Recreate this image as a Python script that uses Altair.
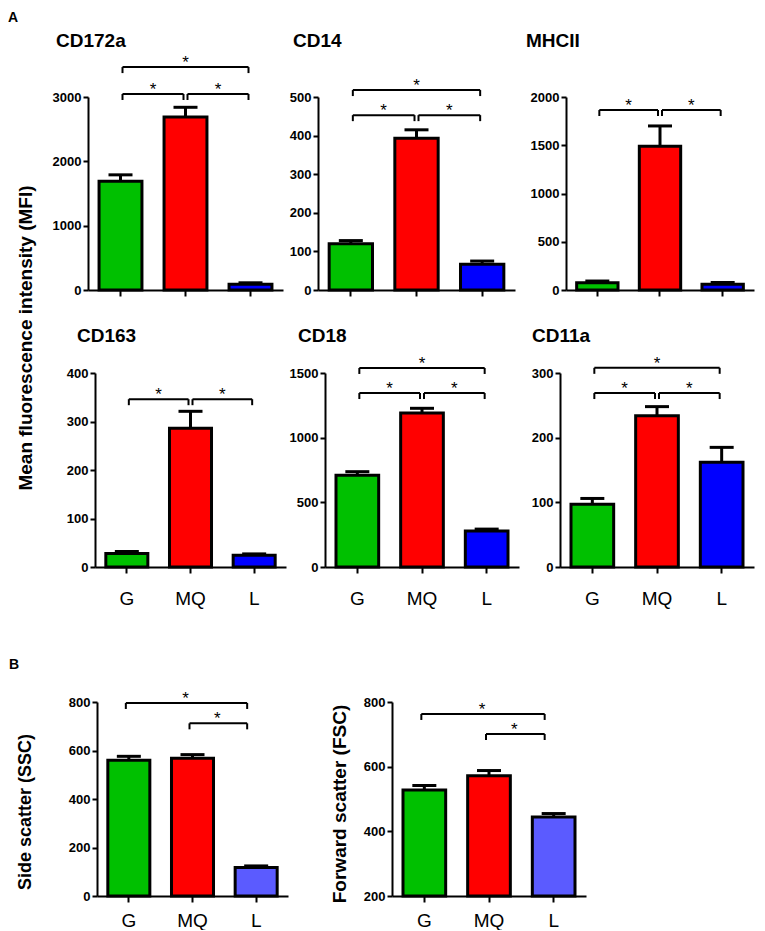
import altair as alt
import pandas as pd

FONT = "Liberation Sans"
groups = ["G", "MQ", "L"]
colors_a = ["#00C000", "#FF0000", "#0000FF"]
colors_b = ["#00C000", "#FF0000", "#5B5BFF"]

# ---- panel A data ----
cd172a_mean = [1690, 2690, 90]
cd172a_sem = [100, 150, 22]
cd172a_ticks = [0, 1000, 2000, 3000]
cd172a_brackets = [("G", "MQ", 3047), ("MQ", "L", 3047), ("G", "L", 3465)]

cd14_mean = [120, 393, 67]
cd14_sem = [8, 22, 8]
cd14_ticks = [0, 100, 200, 300, 400, 500]
cd14_brackets = [("G", "MQ", 453), ("MQ", "L", 453), ("G", "L", 518)]

mhcii_mean = [75, 1490, 60]
mhcii_sem = [18, 210, 18]
mhcii_ticks = [0, 500, 1000, 1500, 2000]
mhcii_brackets = [("G", "MQ", 1865), ("MQ", "L", 1865)]

cd163_mean = [28, 286, 24]
cd163_sem = [4, 35, 3]
cd163_ticks = [0, 100, 200, 300, 400]
cd163_brackets = [("G", "MQ", 346), ("MQ", "L", 346)]

cd18_mean = [710, 1190, 278]
cd18_sem = [27, 37, 15]
cd18_ticks = [0, 500, 1000, 1500]
cd18_brackets = [("G", "MQ", 1345), ("MQ", "L", 1345), ("G", "L", 1539)]

cd11a_mean = [97, 234, 162]
cd11a_sem = [9, 14, 23]
cd11a_ticks = [0, 100, 200, 300]
cd11a_brackets = [("G", "MQ", 269), ("MQ", "L", 269), ("G", "L", 308)]

# ---- panel B data ----
ssc_mean = [560, 568, 118]
ssc_sem = [16, 15, 6]
ssc_ticks = [0, 200, 400, 600, 800]
ssc_brackets = [("MQ", "L", 712), ("G", "L", 796)]

fsc_mean = [528, 572, 444]
fsc_sem = [14, 16, 11]
fsc_ticks = [200, 400, 600, 800]
fsc_brackets = [("MQ", "L", 701), ("G", "L", 763)]

titles = ["CD172a", "CD14", "MHCII", "CD163", "CD18", "CD11a"]
y_title_a = "Mean fluorescence intensity (MFI)"
y_title_ssc = "Side scatter (SSC)"
y_title_fsc = "Forward scatter (FSC)"

one = pd.DataFrame({"k": [0]})


def bracket_frame(brackets):
    rows = []
    for a, b, lvl in brackets:
        ia, ib = groups.index(a), groups.index(b)
        rows.append({"x1": a, "x2": b, "level": lvl, "span": ib - ia,
                     "mid": groups[(ia + ib) // 2]})
    return pd.DataFrame(rows)


def text_layer(txt, x, y, size, bold=True, align="left", baseline="alphabetic", angle=0):
    kw = dict(text=txt, align=align, baseline=baseline, font=FONT, fontSize=size,
              color="black", fontWeight="bold" if bold else "normal")
    if angle:
        kw["angle"] = angle
    return alt.Chart(one).mark_text(**kw).encode(x=alt.value(x), y=alt.value(y))


def frame(x1, x2, y1, y2):
    # invisible layout frame that fixes the panel's bounds
    return alt.Chart(one).mark_rect(opacity=0).encode(
        x=alt.value(x1), x2=alt.value(x2), y=alt.value(y1), y2=alt.value(y2))


def spacer(extras=()):
    return alt.layer(frame(0, 1, 0, 1), *extras).properties(width=1, height=1)


def panel(mean, sem, ticks, brackets, colors, w, h, L, T, Bm, R=3,
          title=None, tpos=(0, 0), xlabels=True, label_pad=16,
          b_off=(2, -2), shift=0, extras=()):
    df = pd.DataFrame({"group": groups, "mean": mean,
                       "hi": [m + s for m, s in zip(mean, sem)],
                       "base": [ticks[0]] * 3})
    xscale = alt.Scale(domain=groups, paddingInner=0.34, paddingOuter=0.17)
    yscale = alt.Scale(domain=[ticks[0], ticks[-1]], nice=False, zero=False)
    xaxis = alt.Axis(title=None, labels=xlabels, labelAngle=0, labelFont=FONT,
                     labelFontSize=19, labelColor="black", labelPadding=label_pad,
                     tickSize=6, tickWidth=2, tickColor="black",
                     domainWidth=2, domainColor="black", grid=False)
    yaxis = alt.Axis(title=None, values=ticks, tickCount=len(ticks) + 2, format="d",
                     labelFont=FONT, labelFontSize=13, labelFontWeight="bold",
                     labelColor="black", labelPadding=2, labelOverlap=False,
                     tickSize=5, tickWidth=2, tickColor="black",
                     domainWidth=2, domainColor="black", grid=False)

    def X(f, **k):
        return alt.X(f, type="nominal", scale=xscale, title=None, **k)

    def Y(f, **k):
        return alt.Y(f, type="quantitative", scale=yscale, title=None, **k)

    step = w / 3.0
    base = alt.Chart(df)
    bars = base.mark_bar(stroke="black", strokeWidth=3).encode(
        x=X("group", axis=xaxis), y=Y("mean", axis=yaxis), y2="base:Q",
        color=alt.Color("group:N", scale=alt.Scale(domain=groups, range=colors), legend=None))
    err = base.mark_rule(color="black", strokeWidth=3).encode(
        x=X("group"), y=Y("mean"), y2="hi:Q")
    cap = base.mark_tick(color="black", size=24, thickness=3, opacity=1).encode(
        x=X("group"), y=Y("hi"))
    bdf = alt.Chart(bracket_frame(brackets))
    br_h = bdf.mark_rule(color="black", strokeWidth=2, xOffset=b_off[0], x2Offset=b_off[1]).encode(
        x=X("x1"), x2="x2:N", y=Y("level"))
    br_l = bdf.mark_rule(color="black", strokeWidth=2, xOffset=b_off[0], y2Offset=6).encode(
        x=X("x1"), y=Y("level"), y2="level:Q")
    br_r = bdf.mark_rule(color="black", strokeWidth=2, xOffset=b_off[1], y2Offset=6).encode(
        x=X("x2"), y=Y("level"), y2="level:Q")
    star1 = bdf.transform_filter(alt.datum.span == 1).mark_text(
        text="*", font=FONT, fontSize=17, color="black", baseline="alphabetic",
        dy=1, xOffset=step / 2 + shift).encode(x=X("x1"), y=Y("level"))
    star2 = bdf.transform_filter(alt.datum.span == 2).mark_text(
        text="*", font=FONT, fontSize=17, color="black", baseline="alphabetic",
        dy=1, xOffset=shift).encode(x=X("mid"), y=Y("level"))
    layers = [frame(-L, w + R, -T, h + Bm), bars, err, cap, br_h, br_l, br_r, star1, star2]
    if title:
        layers.append(text_layer(title, tpos[0], tpos[1], 19))
    layers.extend(extras)
    return alt.layer(*layers).properties(width=w, height=h)


# ---- row 1 (plot tops are the row origin) ----
H1, T1, B1 = 193, 89, 10
p1 = panel(cd172a_mean, cd172a_sem, cd172a_ticks, cd172a_brackets, colors_a,
           195, H1, 49, T1, B1, title=titles[0], tpos=(-32, -50), xlabels=False)
p2 = panel(cd14_mean, cd14_sem, cd14_ticks, cd14_brackets, colors_a,
           197, H1, 32, T1, B1, title=titles[1], tpos=(-25, -50), xlabels=False)
p3 = panel(mhcii_mean, mhcii_sem, mhcii_ticks, mhcii_brackets, colors_a,
           188, H1, 48, T1, B1, title=titles[2], tpos=(-40, -50), xlabels=False)

# ---- row 2 ----
H2, T2, B2 = 194, 73, 73
p4 = panel(cd163_mean, cd163_sem, cd163_ticks, cd163_brackets, colors_a,
           191, H2, 56, T2, B2, title=titles[3], tpos=(-18, -31))
p5 = panel(cd18_mean, cd18_sem, cd18_ticks, cd18_brackets, colors_a,
           194, H2, 36, T2, B2, title=titles[4], tpos=(-27, -31))
p6 = panel(cd11a_mean, cd11a_sem, cd11a_ticks, cd11a_brackets, colors_a,
           194, H2, 38, T2, B2, title=titles[5], tpos=(-28, -31))

# ---- row B ----
H3, T3, B3 = 194, 62, 30
p7 = panel(ssc_mean, ssc_sem, ssc_ticks, ssc_brackets, colors_b,
           191, H3, 88, T3, B3, label_pad=9, b_off=(-3, -9), shift=-7,
           extras=[text_layer("B", -88, -33, 14),
                   text_layer(y_title_ssc, -71.5, 110, 18, align="center",
                              baseline="middle", angle=270)])
p8 = panel(fsc_mean, fsc_sem, fsc_ticks, fsc_brackets, colors_b,
           194, H3, 101, T3, B3, label_pad=9, b_off=(-3, -9), shift=-7,
           extras=[text_layer(y_title_fsc, -52.5, 102, 19, align="center",
                              baseline="middle", angle=270)])

# label column of block A (origin = top of the first row's plots)
label_chart = alt.layer(
    frame(0, 30, -89, 0),
    text_layer("A", 0, -75, 14),
    text_layer(y_title_a, 17.5, 241, 19, align="center", baseline="middle", angle=270),
).properties(width=30, height=1)

row1 = alt.hconcat(spacer(), p1, p2, p3, spacing=0).resolve_scale(color="independent")
row2 = alt.hconcat(spacer(), p4, p5, p6, spacing=0).resolve_scale(color="independent")
inner = alt.vconcat(row1, row2, spacing=0).resolve_scale(color="independent")
a_block = alt.hconcat(label_chart, inner, spacing=0).resolve_scale(color="independent")
b_row = alt.hconcat(spacer(), p7, p8, spacing=0).resolve_scale(color="independent")

chart = (
    alt.vconcat(a_block, b_row, spacing=0)
    .resolve_scale(color="independent")
    .properties(padding={"left": 0, "top": 0, "right": 0, "bottom": 0})
    .configure_view(stroke=None)
)

chart.save("out.html", embed_options={"renderer": "svg", "actions": False})
